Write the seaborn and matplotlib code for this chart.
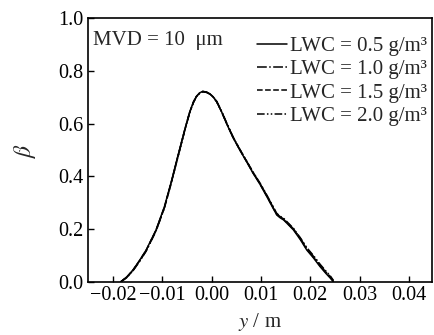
import numpy as np
import pandas as pd
import matplotlib
matplotlib.use("Agg")
import matplotlib.pyplot as plt
import seaborn as sns

# Data
y_pos = [-0.0185, -0.0172, -0.0160, -0.0147, -0.0133, -0.0113, -0.0096, -0.0082,
         -0.0069, -0.0055, -0.0045, -0.0037, -0.0031, -0.0024, -0.0018, -0.0010,
         -0.0004, 0.0003, 0.0010, 0.0020, 0.0030, 0.0043, 0.0057, 0.0071,
         0.0084, 0.0098, 0.0112, 0.0125, 0.0132, 0.0139, 0.0146, 0.0155,
         0.0166, 0.0180, 0.0193, 0.0207, 0.0220, 0.0232, 0.0241, 0.0247]
beta_05 = [0.000, 0.020, 0.045, 0.080, 0.121, 0.197, 0.285, 0.380,
           0.475, 0.575, 0.642, 0.682, 0.703, 0.717, 0.722, 0.719,
           0.713, 0.701, 0.683, 0.645, 0.601, 0.548, 0.500, 0.455,
           0.412, 0.370, 0.323, 0.278, 0.254, 0.243, 0.235, 0.218,
           0.197, 0.160, 0.121, 0.090, 0.058, 0.032, 0.014, 0.000]
beta_10 = [0.000, 0.018, 0.043, 0.077, 0.118, 0.194, 0.281, 0.376,
           0.471, 0.572, 0.640, 0.681, 0.702, 0.716, 0.721, 0.718,
           0.712, 0.701, 0.684, 0.646, 0.603, 0.550, 0.502, 0.457,
           0.415, 0.373, 0.327, 0.282, 0.258, 0.247, 0.239, 0.222,
           0.201, 0.165, 0.127, 0.096, 0.064, 0.038, 0.019, 0.004]
beta_15 = [0.000, 0.019, 0.044, 0.079, 0.120, 0.196, 0.283, 0.378,
           0.473, 0.574, 0.641, 0.682, 0.703, 0.717, 0.722, 0.719,
           0.713, 0.701, 0.683, 0.645, 0.602, 0.549, 0.501, 0.456,
           0.413, 0.372, 0.325, 0.280, 0.256, 0.245, 0.237, 0.220,
           0.199, 0.163, 0.124, 0.093, 0.061, 0.035, 0.017, 0.002]
beta_20 = [0.000, 0.017, 0.042, 0.076, 0.117, 0.193, 0.280, 0.375,
           0.470, 0.571, 0.639, 0.680, 0.702, 0.716, 0.721, 0.718,
           0.712, 0.702, 0.685, 0.647, 0.604, 0.551, 0.503, 0.458,
           0.416, 0.375, 0.329, 0.284, 0.260, 0.249, 0.241, 0.224,
           0.203, 0.167, 0.130, 0.099, 0.067, 0.041, 0.022, 0.006]
labels = ["LWC = 0.5 g/m³", "LWC = 1.0 g/m³",
          "LWC = 1.5 g/m³", "LWC = 2.0 g/m³"]
x_ticks = [-0.02, -0.01, 0.00, 0.01, 0.02, 0.03, 0.04]
y_ticks = [0.0, 0.2, 0.4, 0.6, 0.8, 1.0]

sns.set_style("ticks")
plt.rcParams['font.family'] = ['Liberation Serif', 'DejaVu Serif']
plt.rcParams['mathtext.fontset'] = 'stix'
plt.rcParams['font.size'] = 14.5

fig = plt.figure(figsize=(4.34, 3.35), dpi=100)
ax = fig.add_axes([88/434, 1 - 282/335, (432-88)/434, (282-18)/335])

styles = ['-', '-.', '--', (0, (5, 1.5, 1, 1.5, 1, 1.5))]
series = [beta_05, beta_10, beta_15, beta_20]
for s, lab, ls in zip(series, labels, styles):
    df = pd.DataFrame({"y": y_pos, "beta": s})
    sns.lineplot(data=df, x="y", y="beta", ax=ax, color="black", lw=1.1,
                 linestyle=ls, label=lab, sort=False)

ax.set_xlim(-0.0251, 0.0447)
ax.set_ylim(0, 1.0)
ax.set_xticks(x_ticks)
ax.set_xticklabels([f"{t:.2f}".replace("-", "\u2212") for t in x_ticks])
ax.set_yticks(y_ticks)
ax.set_yticklabels([f"{t:.1f}" for t in y_ticks])
ax.tick_params(direction='in', length=4, width=1, labelsize=14.5, colors='black', pad=3)
for sp in ax.spines.values():
    sp.set_visible(True)
    sp.set_linewidth(1.2)
    sp.set_color('black')

ax.set_xlabel("$\\it{y}$ / m", fontsize=15, labelpad=4)
ax.set_ylabel("$\\it{\\beta}$", fontsize=17, labelpad=15)

ax.text(0.015, 0.95, "MVD = 10  μm", transform=ax.transAxes, fontsize=15,
        ha='left', va='top')
leg = ax.legend(loc='upper right', bbox_to_anchor=(0.985, 0.93), frameon=False,
                fontsize=15, handlelength=1.45, handletextpad=0.15,
                labelspacing=0.18, borderaxespad=0.0, borderpad=0.0)

fig.savefig("out.png", dpi=100)
